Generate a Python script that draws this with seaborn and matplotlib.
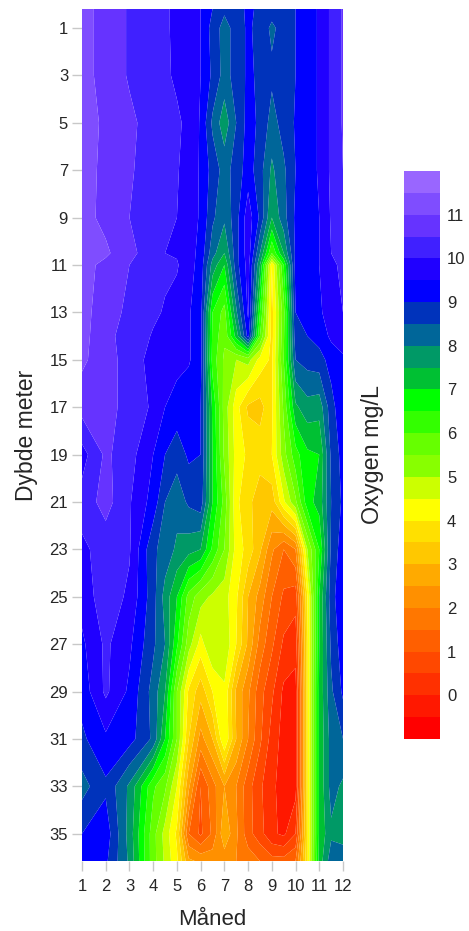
import matplotlib
matplotlib.use("Agg")
import matplotlib.pyplot as plt
from matplotlib.colors import ListedColormap, BoundaryNorm
import seaborn as sns
import numpy as np

months = [1, 2, 3, 4, 4.5, 5, 5.5, 6, 6.5, 7, 7.5, 8, 8.5, 9, 9.5, 10, 10.5, 11, 11.5, 12]
depths = [0.2, 1, 3, 5, 7, 9, 10.5, 11, 13, 14, 15, 17, 19, 21, 23, 25, 27, 29, 31, 33, 35, 36.15]

# oxygen, one row per depth
oxygen = [
    [11.2, 10.8, 10.45, 10.15, 10.1, 9.85, 9.65, 9.5, 9.0, 8.6, 8.8, 9.1, 8.9, 8.7, 8.8, 9.0, 9.3, 9.55, 10.1, 10.55],
    [11.2, 10.8, 10.45, 10.15, 10.1, 9.85, 9.65, 9.5, 8.8, 8.3, 8.7, 9.1, 8.8, 8.4, 8.7, 9.0, 9.3, 9.55, 10.1, 10.55],
    [11.2, 10.8, 10.45, 10.15, 10.1, 9.9, 9.65, 9.5, 8.9, 8.3, 8.7, 9.1, 8.9, 8.6, 8.8, 9.0, 9.3, 9.55, 10.1, 10.55],
    [11.25, 10.9, 10.6, 10.3, 10.2, 10.1, 9.85, 9.45, 8.4, 7.7, 8.5, 9.2, 8.9, 8.3, 8.7, 9.05, 9.3, 9.55, 10.1, 10.55],
    [11.25, 10.85, 10.55, 10.3, 10.15, 10.05, 9.75, 9.45, 8.8, 8.3, 8.7, 9.25, 8.7, 7.9, 8.4, 9.0, 9.3, 9.55, 10.1, 10.5],
    [11.2, 10.85, 10.5, 10.25, 10.1, 10.0, 9.7, 9.45, 8.6, 8.1, 8.8, 9.8, 8.9, 7.5, 8.3, 9.1, 9.3, 9.5, 10.05, 10.15],
    [11.3, 11.1, 10.6, 10.3, 10.0, 9.95, 9.7, 9.35, 8.2, 7.5, 8.8, 9.8, 8.0, 6.0, 7.5, 9.1, 9.3, 9.5, 10.0, 10.1],
    [11.2, 10.85, 10.5, 10.3, 10.1, 10.05, 9.7, 9.3, 7.8, 7.0, 8.8, 9.7, 7.5, 4.0, 6.5, 9.2, 9.3, 9.5, 9.9, 10.1],
    [11.2, 10.7, 10.4, 10.1, 9.95, 9.8, 9.55, 9.2, 6.5, 5.8, 7.9, 9.6, 6.5, 3.8, 5.8, 9.0, 9.2, 9.4, 9.8, 10.0],
    [11.2, 10.6, 10.35, 9.95, 9.85, 9.7, 9.55, 9.2, 6.4, 5.6, 7.2, 9.2, 6.0, 3.8, 5.9, 8.8, 9.0, 9.2, 9.6, 9.8],
    [11.1, 10.7, 10.3, 9.8, 9.7, 9.65, 9.55, 9.2, 6.3, 5.4, 5.0, 5.2, 4.3, 3.9, 6.0, 8.5, 8.7, 8.8, 9.2, 9.4],
    [10.7, 10.6, 10.4, 9.9, 9.5, 9.3, 9.2, 9.0, 6.9, 5.3, 4.2, 3.4, 3.3, 3.9, 5.6, 7.4, 7.8, 7.7, 8.8, 9.4],
    [9.8, 10.6, 10.2, 9.5, 9.0, 8.7, 9.1, 9.0, 7.0, 5.4, 4.3, 3.9, 3.8, 4.0, 5.3, 6.3, 6.9, 7.0, 8.6, 9.2],
    [10.2, 10.7, 10.05, 9.3, 8.5, 8.2, 8.6, 8.8, 7.0, 5.8, 4.1, 3.7, 3.1, 3.2, 4.4, 5.4, 6.8, 7.2, 8.5, 9.1],
    [9.9, 10.2, 10.05, 8.6, 8.3, 7.9, 7.7, 7.5, 6.4, 5.5, 4.3, 3.8, 3.1, 2.1, 1.5, 2.0, 5.0, 6.5, 8.6, 9.3],
    [9.7, 10.3, 9.9, 8.7, 7.8, 7.0, 5.8, 5.2, 4.9, 4.7, 4.1, 3.0, 2.3, 1.5, 0.9, 0.7, 4.0, 7.0, 8.8, 9.4],
    [9.4, 10.1, 9.6, 8.6, 8.0, 6.6, 5.2, 4.3, 5.0, 4.9, 4.0, 2.9, 1.8, 1.1, 0.4, 0.2, 3.9, 7.0, 8.6, 9.3],
    [9.2, 10.1, 9.4, 8.3, 7.5, 5.5, 3.9, 3.2, 4.0, 4.4, 2.9, 2.1, 1.2, 0.6, -0.1, -0.2, 3.9, 7.1, 8.4, 9.1],
    [8.9, 9.4, 9.2, 8.4, 7.0, 5.5, 3.5, 2.3, 3.0, 4.5, 3.0, 2.0, 1.1, 0.3, -0.2, -0.2, 3.9, 7.1, 8.2, 8.5],
    [8.3, 8.9, 7.9, 6.1, 5.6, 4.5, 2.6, 1.0, 1.8, 2.5, 2.0, 1.2, 0.6, 0.1, -0.2, -0.2, 3.9, 7.1, 8.2, 7.9],
    [9.0, 9.3, 7.8, 5.7, 4.8, 3.9, 1.5, 0.9, 1.6, 2.9, 2.1, 1.2, 0.7, 0.1, -0.1, 0.5, 3.9, 7.1, 7.9, 7.8],
    [9.2, 9.1, 7.9, 5.7, 4.9, 4.1, 2.6, 2.4, 2.3, 2.2, 2.0, 1.8, 1.5, 1.2, 1.2, 1.5, 3.9, 7.2, 8.3, 8.3],
]

month_ticks = list(range(1, 13))
depth_ticks = list(range(1, 37, 2))
cbar_ticks = list(range(0, 12))
levels = np.arange(-1, 12.5, 0.5)
band_colors = [
    "#ff0000", "#ff1800", "#ff3000", "#ff4800", "#ff5f00", "#ff7700", "#ff9000", "#ffaa00",
    "#ffc800", "#ffe000", "#ffff00", "#ccff00", "#88ff00", "#66ff00", "#33ff00", "#00ff00",
    "#00c033", "#009966", "#006699", "#0033bb", "#0000ff", "#2000ff", "#4020ff", "#6633ff",
    "#7f4dff", "#9966ff",
]

sns.set_theme(style="white")
plt.rcParams["font.family"] = ["Liberation Sans", "DejaVu Sans"]
text_col = "#262626"
W, H = 469, 931

cmap = ListedColormap(band_colors)
norm = BoundaryNorm(levels, cmap.N)

fig = plt.figure(figsize=(W / 100, H / 100), dpi=100)
ax = fig.add_axes([82 / W, 1 - 861 / H, 261 / W, 852 / H])
ax.contourf(months, depths, np.array(oxygen), levels=levels, cmap=cmap, norm=norm, antialiased=True)
ax.set_xlim(1, 12)
ax.set_ylim(36.15, 0.2)
ax.set_xticks(month_ticks)
ax.set_yticks(depth_ticks)
ax.tick_params(axis="both", length=7, width=1, color="#c8c8c8", labelsize=12, labelcolor=text_col, pad=3, bottom=True, left=True)
ax.tick_params(axis="x", pad=6)
for s in ax.spines.values():
    s.set_visible(False)
ax.set_xlabel("Måned", fontsize=16, color=text_col)
ax.set_ylabel("Dybde meter", fontsize=16.5, color=text_col)
ax.xaxis.set_label_coords(0.5, -0.056)
ax.yaxis.set_label_coords(-0.17, 0.5)

# colour bar as one-column heatmap, top band first
cax = fig.add_axes([404 / W, 1 - 739 / H, 36 / W, 568 / H])
mids = (levels[:-1] + levels[1:]) / 2
sns.heatmap(mids[::-1].reshape(-1, 1), ax=cax, cmap=cmap, norm=norm, cbar=False, xticklabels=False)
cax.set_yticks([(12 - v) * 2 for v in cbar_ticks])
cax.set_yticklabels(cbar_ticks, rotation=0)
cax.yaxis.tick_right()
cax.tick_params(axis="y", length=0, labelsize=12, labelcolor=text_col, pad=5)
cax.set_ylabel("")
fig.text(372 / W, 1 - 454 / H, "Oxygen mg/L", rotation=90, ha="center", va="center", fontsize=16.8, color=text_col)

fig.savefig("out.png", dpi=100)
plt.close(fig)
